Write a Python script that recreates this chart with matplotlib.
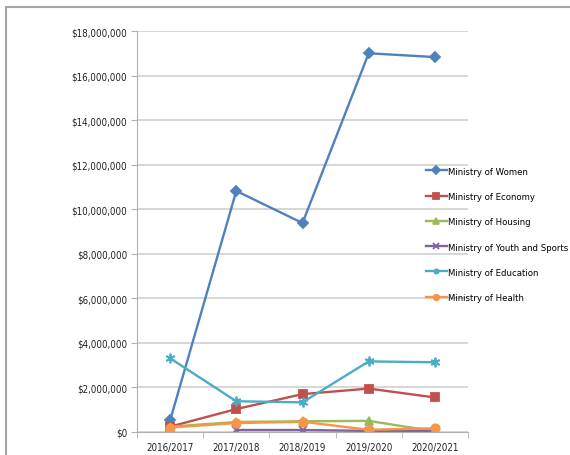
import numpy as np
import matplotlib.pyplot as plt
from matplotlib.patches import Rectangle
from matplotlib.ticker import FuncFormatter

years = ['2016/2017', '2017/2018', '2018/2019', '2019/2020', '2020/2021']

women = [0.52e6, 10.82e6, 9.38e6, 17.0e6, 16.83e6]
economy = [0.24e6, 1.03e6, 1.70e6, 1.95e6, 1.55e6]
housing = [0.24e6, 0.45e6, 0.48e6, 0.50e6, 0.03e6]
youth = [np.nan, 0.09e6, 0.09e6, 0.05e6, 0.05e6]
education = [3.31e6, 1.38e6, 1.33e6, 3.17e6, 3.13e6]
health = [0.20e6, 0.40e6, 0.46e6, 0.10e6, 0.17e6]

series = [
    ('Ministry of Women', women, '#4F81BD', 'D'),
    ('Ministry of Economy', economy, '#C0504D', 's'),
    ('Ministry of Housing', housing, '#9BBB59', '^'),
    ('Ministry of Youth and Sports', youth, '#8064A2', 'x'),
    ('Ministry of Education', education, '#4BACC6', (6, 2, 0)),
    ('Ministry of Health', health, '#F79646', 'o'),
]

plt.rcParams['font.family'] = ['DejaVu Sans']
plt.rcParams['font.stretch'] = 'condensed'

fig = plt.figure(figsize=(5.7, 4.56), dpi=100)
fig.patches.append(Rectangle((6/570, -0.05), 1.2, 1 - 8/456 + 0.05, transform=fig.transFigure,
                             fill=False, edgecolor='#A6A6A6', linewidth=1.5))

ax = fig.add_axes([137/570, 1 - 433/456, (468 - 137)/570, (433 - 32)/456])
x = np.arange(len(years))
for name, vals, col, mk in series:
    ms = {'D': 5, 's': 5.5, '^': 5.5, 'x': 6, 'o': 6}.get(mk, 7)
    ax.plot(x, vals, color=col, marker=mk, markersize=ms, linewidth=1.7,
            markeredgewidth=1.3, label=name)

ax.set_xlim(-0.5, len(years) - 0.5)
ax.set_ylim(0, 18e6)
ax.set_yticks(np.arange(0, 18e6 + 1, 2e6))
ax.yaxis.set_major_formatter(FuncFormatter(lambda v, p: '${:,.0f}'.format(v)))
ax.set_xticks(x)
ax.set_xticklabels(years)
ax.set_xticks(np.arange(-0.5, len(years), 1.0), minor=True)
ax.tick_params(axis='x', which='major', length=0, labelsize=7, pad=7, colors='#222222')
ax.tick_params(axis='x', which='minor', length=4, color='#B0B0B0')
ax.tick_params(axis='y', length=4, color='#B0B0B0', labelsize=7, pad=3, colors='#222222')
ax.grid(axis='y', color='#CFCFCF', linewidth=1.2)
ax.set_axisbelow(True)
for s in ('top', 'right'):
    ax.spines[s].set_visible(False)
for s in ('left', 'bottom'):
    ax.spines[s].set_color('#B0B0B0')

leg = fig.legend(loc='upper left', bbox_to_anchor=(422/570, 1 - 164/456), frameon=False,
                 fontsize=6.8, handlelength=2.2, handletextpad=0.2, labelspacing=1.72,
                 borderaxespad=0)
for h in leg.legend_handles:
    h.set_markersize(4)

fig.savefig('out.png', dpi=100)
